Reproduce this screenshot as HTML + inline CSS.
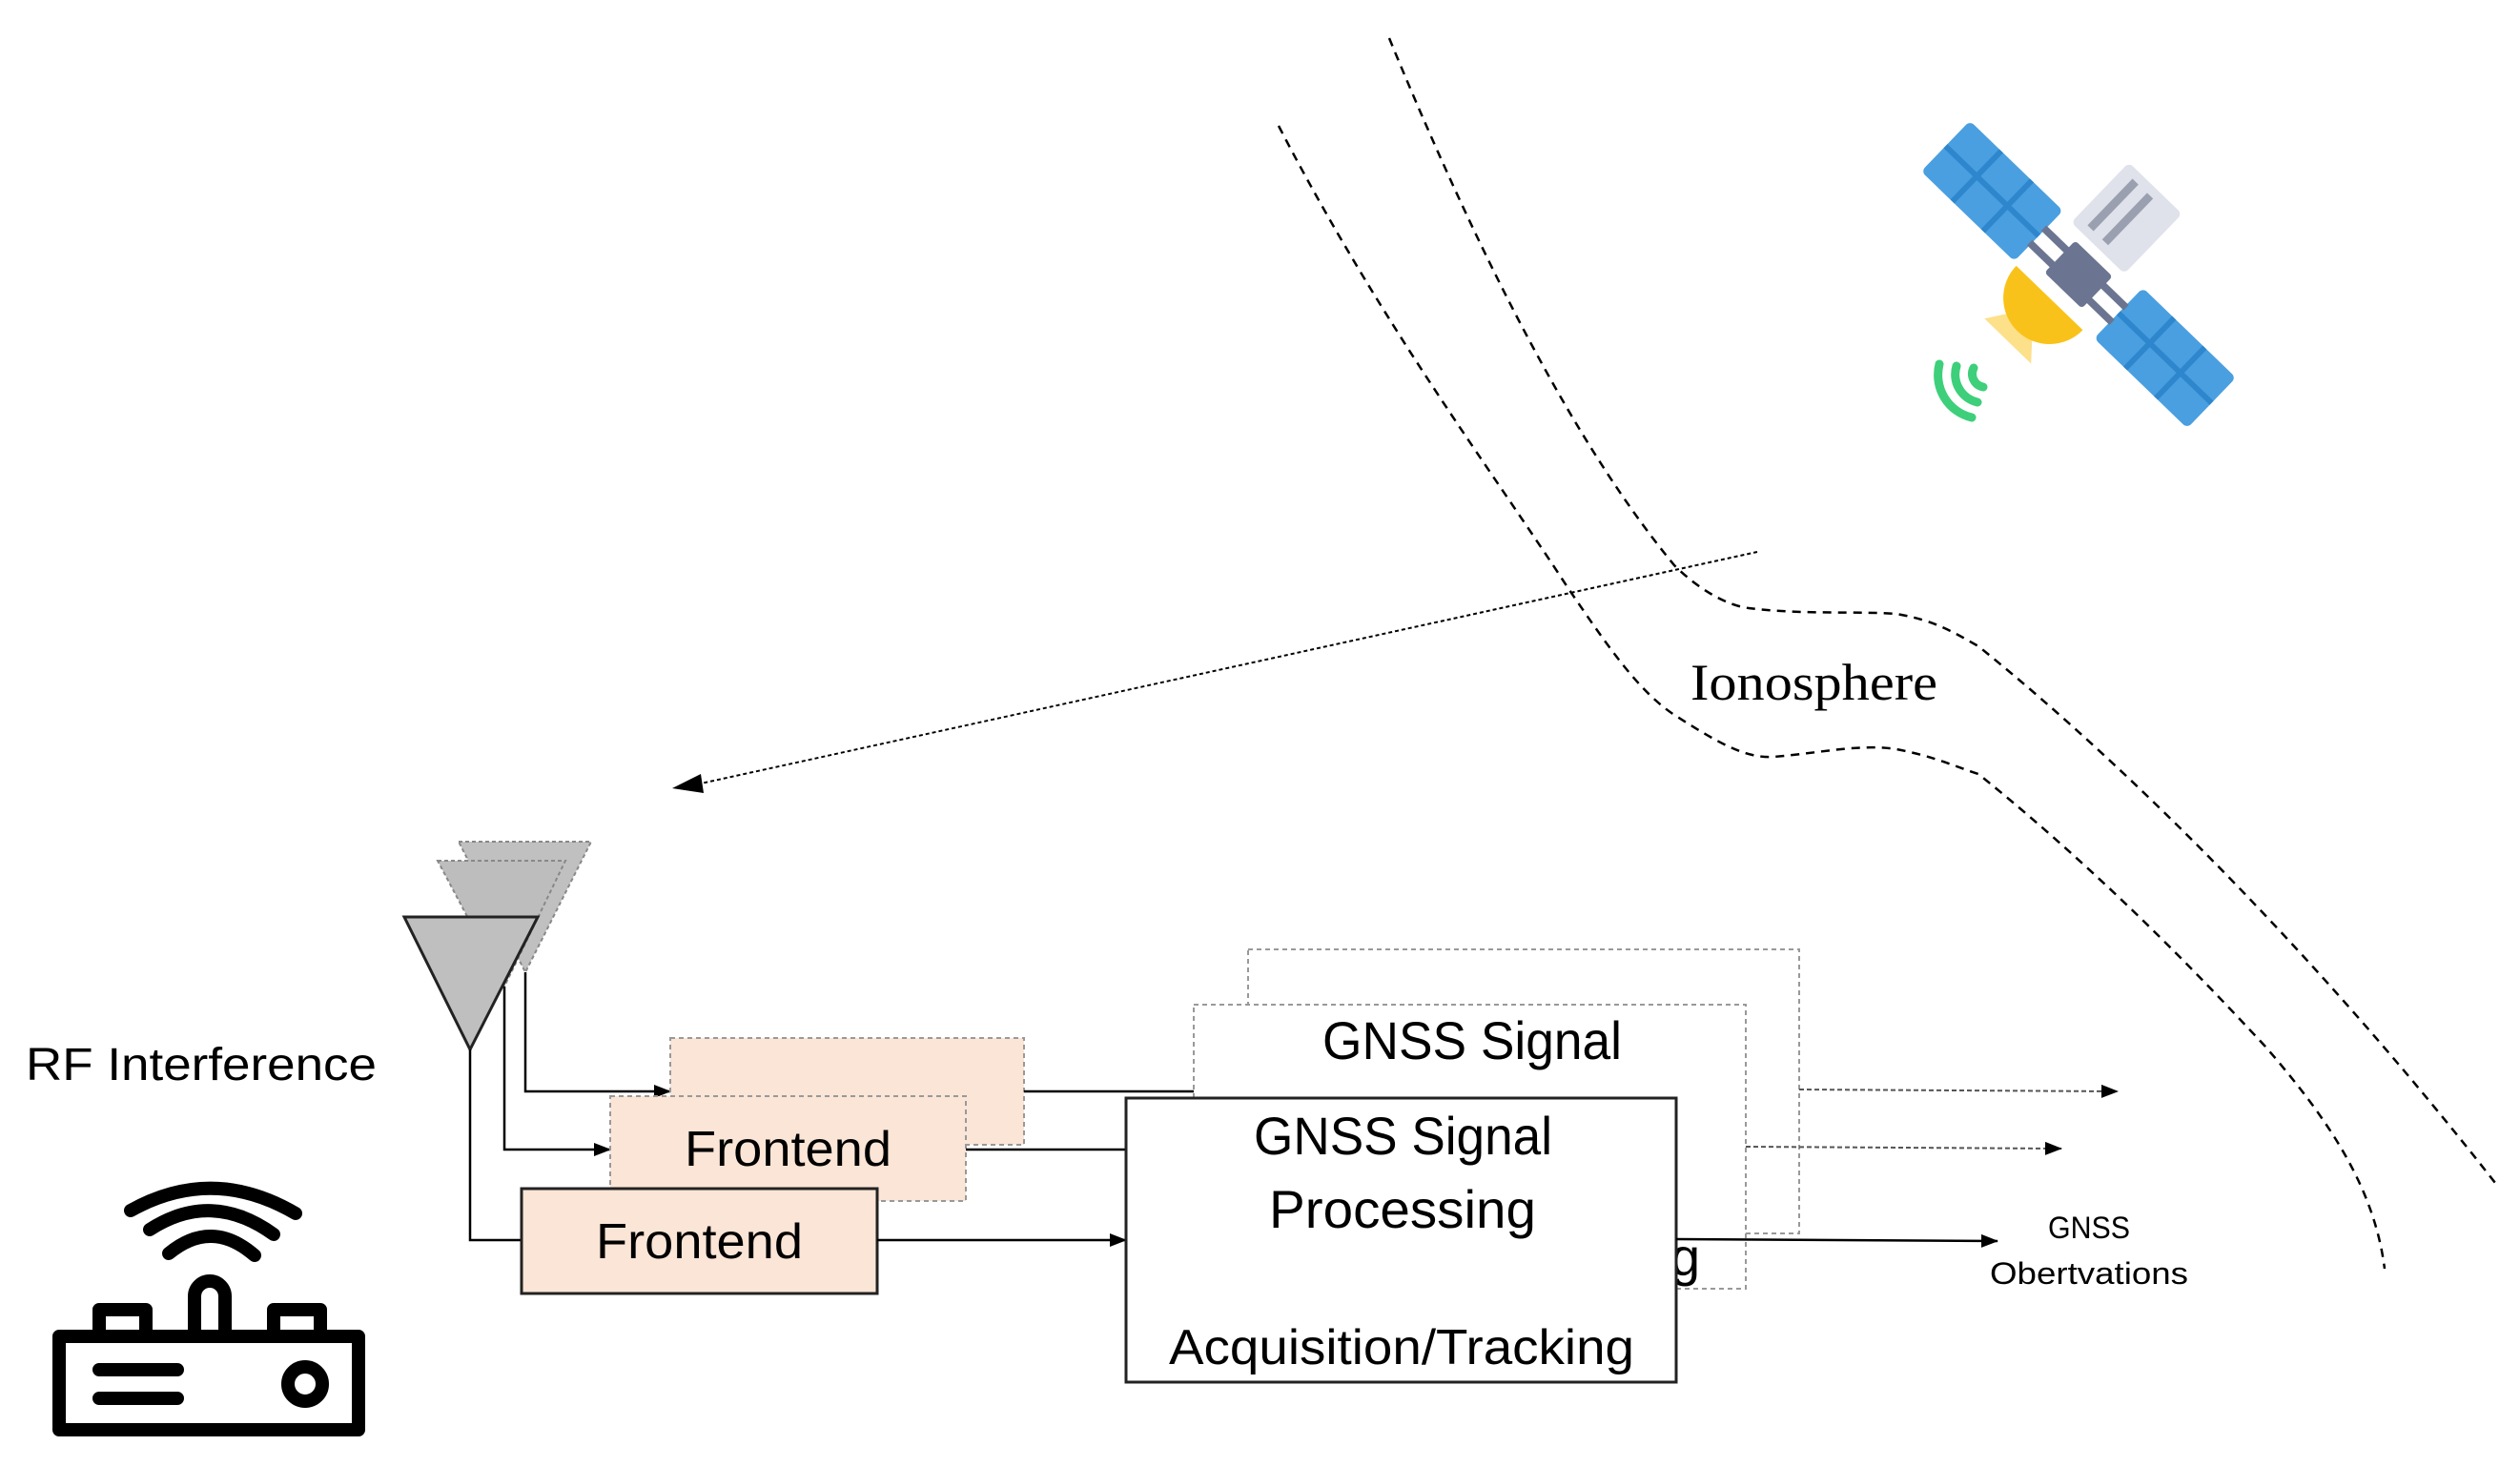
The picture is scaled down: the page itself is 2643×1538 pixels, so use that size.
<!DOCTYPE html>
<html><head><meta charset="utf-8"><style>
html,body{margin:0;padding:0;background:#fff;}
svg{display:block;}
text{font-family:"Liberation Sans",sans-serif;fill:#000;}
</style></head><body>
<svg width="2643" height="1538" viewBox="0 0 2643 1538" xmlns="http://www.w3.org/2000/svg">
<defs>
<marker id="ah2" markerWidth="18" markerHeight="14" refX="17" refY="7" orient="auto" markerUnits="userSpaceOnUse"><path d="M0,0 L18,7 L0,14 z" fill="#000"/></marker>
</defs>

<!-- ionosphere curves -->
<path d="M1341,132 C1450,342 1560,487 1644,616 C1690,684 1720,726 1756,750 C1800,778 1830,796 1860,794 C1910,790 1950,780 1989,786 C2030,794 2050,804 2075,812 C2200,913 2300,1016 2376,1098 C2440,1172 2490,1244 2501,1331" fill="none" stroke="#000" stroke-width="2.5" stroke-dasharray="9,7"/>
<path d="M1457,40 C1560,290 1660,477 1756,593 C1780,617 1810,635 1834,638 C1890,645 1950,641 1989,644 C2030,651 2050,664 2075,678 C2250,819 2450,1027 2617,1241" fill="none" stroke="#000" stroke-width="2.5" stroke-dasharray="9,7"/>

<!-- dotted signal arrow -->
<line x1="1843" y1="579" x2="735" y2="822" stroke="#000" stroke-width="2" stroke-dasharray="4,3"/>
<path d="M735,812 L705,827 L738,832 z" fill="#000"/>

<text x="1773" y="734" style="font-family:'Liberation Serif',serif" font-size="54" textLength="259" lengthAdjust="spacingAndGlyphs">Ionosphere</text>

<!-- satellite -->
<g transform="translate(2180,288) rotate(44) scale(0.97)">
  <rect x="-45" y="-125" width="80" height="90" rx="6" fill="#dfe2ea"/>
  <rect x="-30" y="-115" width="9" height="70" fill="#9aa0b0"/>
  <rect x="-8" y="-115" width="9" height="70" fill="#9aa0b0"/>
  <rect x="-200" y="-38" width="140" height="76" rx="6" fill="#4a9fe0"/>
  <path d="M-153,-38 V38 M-107,-38 V38 M-200,0 H-60" stroke="#2e86cc" stroke-width="6"/>
  <rect x="60" y="-38" width="140" height="76" rx="6" fill="#4a9fe0"/>
  <path d="M107,-38 V38 M153,-38 V38 M60,0 H200" stroke="#2e86cc" stroke-width="6"/>
  <rect x="-62" y="-14" width="124" height="8" fill="#6b7591"/>
  <rect x="-62" y="8" width="124" height="8" fill="#6b7591"/>
  <rect x="-28" y="-24" width="56" height="48" rx="4" fill="#6b7591"/>
  <path d="M-10,60 L-40,105 L30,105 z" fill="#fde08a"/>
  <path d="M-55,40 A50,50 0 0 0 45,40 z" fill="#f9c21a"/>
</g>
<g fill="none" stroke="#3ecf7a" stroke-width="9" stroke-linecap="round">
  <path d="M2070,386 A14,14 0 0 0 2080,406"/>
  <path d="M2052,384 A30,30 0 0 0 2074,422"/>
  <path d="M2034,382 A46,46 0 0 0 2068,438"/>
</g>

<!-- antennas -->
<polygon points="481,883 620,883 551,1020" fill="#c0c0c0" stroke="#888" stroke-width="2" stroke-dasharray="4,3"/>
<polygon points="459,903 593,903 529,1035" fill="#bdbdbd" stroke="#888" stroke-width="2" stroke-dasharray="4,3"/>
<polygon points="424,962 564,962 493,1101" fill="#bfbfbf" stroke="#222" stroke-width="3"/>

<!-- antenna connectors -->
<path d="M551,1020 V1145 H703" fill="none" stroke="#000" stroke-width="2.5" marker-end="url(#ah2)"/>
<path d="M529,1035 V1206 H640" fill="none" stroke="#000" stroke-width="2.5" marker-end="url(#ah2)"/>
<path d="M493,1101 V1301 H547" fill="none" stroke="#000" stroke-width="2.5"/>

<!-- GNSS back boxes -->
<rect x="1309" y="996" width="578" height="298" fill="#fff" stroke="#999" stroke-width="2" stroke-dasharray="5,4"/>
<rect x="1252" y="1054" width="579" height="298" fill="#fff" stroke="#999" stroke-width="2" stroke-dasharray="5,4"/>
<text x="1387" y="1111" font-size="56" textLength="314" lengthAdjust="spacingAndGlyphs">GNSS Signal</text>
<text x="1752" y="1338" font-size="56">g</text>

<!-- frontend boxes -->
<rect x="703" y="1089" width="371" height="112" fill="#fbe5d6" stroke="#999" stroke-width="2" stroke-dasharray="5,4"/>
<rect x="640" y="1150" width="373" height="110" fill="#fbe5d6" stroke="#999" stroke-width="2" stroke-dasharray="5,4"/>
<text x="718" y="1223" font-size="52" textLength="217" lengthAdjust="spacingAndGlyphs">Frontend</text>
<rect x="547" y="1247" width="373" height="110" fill="#fbe5d6" stroke="#222" stroke-width="3"/>
<text x="625" y="1320" font-size="52" textLength="217" lengthAdjust="spacingAndGlyphs">Frontend</text>

<!-- frontend -> GNSS connectors -->
<line x1="1074" y1="1145" x2="1252" y2="1145" stroke="#000" stroke-width="2.5"/>
<line x1="1013" y1="1206" x2="1181" y2="1206" stroke="#000" stroke-width="2.5"/>
<line x1="920" y1="1301" x2="1181" y2="1301" stroke="#000" stroke-width="2.5" marker-end="url(#ah2)"/>

<!-- front GNSS box -->
<rect x="1181" y="1152" width="577" height="298" fill="#fff" stroke="#222" stroke-width="3"/>
<text x="1315" y="1211" font-size="56" textLength="313" lengthAdjust="spacingAndGlyphs">GNSS Signal</text>
<text x="1331" y="1288" font-size="56" textLength="280" lengthAdjust="spacingAndGlyphs">Processing</text>
<text x="1226" y="1431" font-size="52" textLength="488" lengthAdjust="spacingAndGlyphs">Acquisition/Tracking</text>

<!-- outputs -->
<line x1="1887" y1="1143" x2="2221" y2="1145" stroke="#555" stroke-width="2" stroke-dasharray="5,3" marker-end="url(#ah2)"/>
<line x1="1831" y1="1203" x2="2162" y2="1205" stroke="#555" stroke-width="2" stroke-dasharray="5,3" marker-end="url(#ah2)"/>
<line x1="1758" y1="1300" x2="2095" y2="1302" stroke="#000" stroke-width="2.5" marker-end="url(#ah2)"/>
<text x="2148" y="1299" font-size="32" textLength="86" lengthAdjust="spacingAndGlyphs">GNSS</text>
<text x="2087" y="1347" font-size="32" textLength="208" lengthAdjust="spacingAndGlyphs">Obertvations</text>

<!-- RF interference -->
<text x="27" y="1133" font-size="48" textLength="368" lengthAdjust="spacingAndGlyphs">RF Interference</text>
<g fill="none" stroke="#000" stroke-width="14" stroke-linecap="round" stroke-linejoin="round">
  <path d="M137,1270 Q223,1222 310,1273"/>
  <path d="M157,1290 Q222,1248 287,1295"/>
  <path d="M177,1315 Q222,1278 267,1317"/>
  <path d="M204,1402 V1360 A16,16 0 0 1 236,1360 V1402"/>
  <rect x="104" y="1374" width="49" height="28"/>
  <rect x="287" y="1374" width="49" height="28"/>
  <rect x="62" y="1402" width="314" height="98"/>
  <path d="M104,1437 H186 M104,1467 H186"/>
  <circle cx="320" cy="1452" r="18"/>
</g>
</svg>
</body></html>
